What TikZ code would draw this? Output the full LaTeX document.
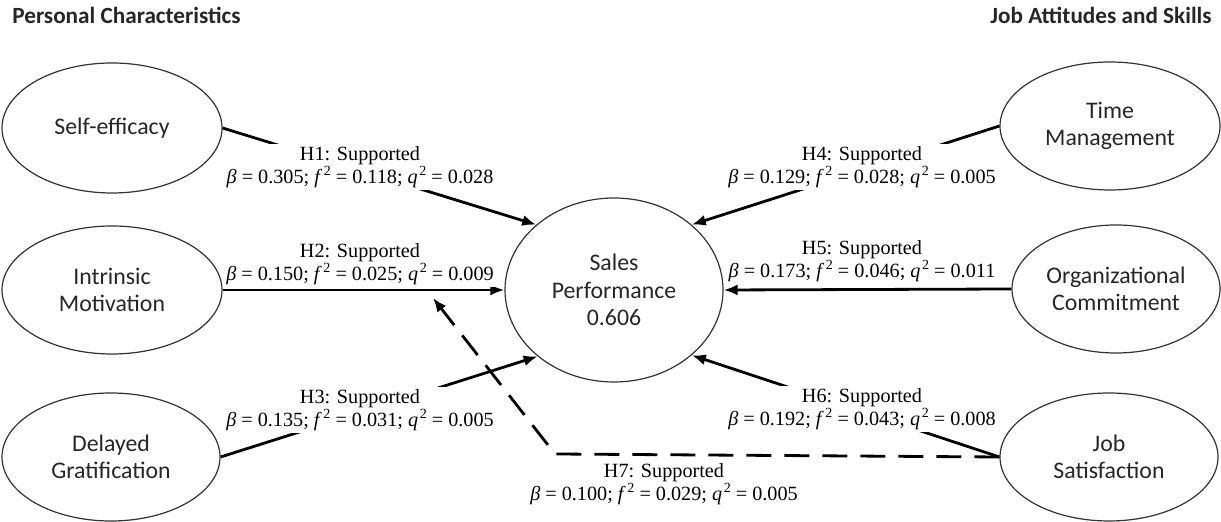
\documentclass[tikz,border=0pt]{standalone}
\usepackage{fontspec}
\setmainfont{Liberation Serif}
\newfontfamily\calfont{Carlito}
\usetikzlibrary{arrows.meta,shapes.geometric}
% italic symbol with a squared exponent
\newcommand\sqd[1]{\textit{#1}\kern0.8pt\raisebox{0.85ex}{\scriptsize 2}}

\begin{document}
\begin{tikzpicture}[x=0.5pt,y=-0.5pt,
  latent/.style={ellipse,draw=black!80,line width=0.6pt,inner sep=0pt,align=center,
    text=black!85,font=\calfont\fontsize{11.9}{13.7}\selectfont},
  pathline/.style={line width=1.4pt,-{Latex[length=7pt,width=5.5pt]}},
  mediated/.style={pathline,dash pattern=on 12.5pt off 6.5pt},
  est/.style={align=center,fill=white,inner sep=1pt,font=\fontsize{10.1}{11.6}\selectfont},
  grouptitle/.style={font=\calfont\bfseries\fontsize{11.6}{13}\selectfont,text=black!85,inner sep=0pt}
]
\useasboundingbox (0,0) rectangle (1221,522);

% group headings
\node[grouptitle,anchor=west] (hpc) at (12,15) {Personal Characteristics};
\node[grouptitle,anchor=east] (hja) at (1212,15) {Job Attitudes and Skills};

% constructs
\node[latent,minimum width=110pt,minimum height=65pt] (se) at (112,128) {Self-efficacy};
\node[latent,minimum width=110pt,minimum height=64pt] (im) at (112,290) {Intrinsic\\Motivation};
\node[latent,minimum width=109pt,minimum height=64pt] (dg) at (111,457) {Delayed\\Gratification};
\node[latent,minimum width=110pt,minimum height=64pt] (tm) at (1110,126) {Time\\Management};
\node[latent,minimum width=104pt,minimum height=64pt] (oc) at (1116,289) {Organizational\\Commitment};
\node[latent,minimum width=109pt,minimum height=64pt] (js) at (1109,457) {Job\\Satisfaction};
\node[latent,minimum width=109pt,minimum height=92pt] (sp) at (614,290) {Sales\\Performance\\0.606};

% structural paths
\draw[pathline] (se.east) -- (sp.140);
\draw[pathline] (im.east) -- (sp.west);
\draw[pathline] (dg.east) -- (sp.221);
\draw[pathline] (tm.west) -- (sp.40);
\draw[pathline] (oc.west) -- (sp.east);
\draw[pathline] (js.west) -- (sp.320);

% moderated path
\coordinate (bend) at (555,454);
\coordinate (tip) at (433,298);
\draw[mediated] (js.west) -- (bend) -- (tip);

% path estimates
\node[est] (e1) at (360,167) {H1: Supported\\\textit{β} = 0.305; \sqd{f} = 0.118; \sqd{q} = 0.028};
\node[est] (e2) at (360,264) {H2: Supported\\\textit{β} = 0.150; \sqd{f} = 0.025; \sqd{q} = 0.009};
\node[est] (e3) at (360,410) {H3: Supported\\\textit{β} = 0.135; \sqd{f} = 0.031; \sqd{q} = 0.005};
\node[est] (e4) at (862,167) {H4: Supported\\\textit{β} = 0.129; \sqd{f} = 0.028; \sqd{q} = 0.005};
\node[est] (e5) at (862,261) {H5: Supported\\\textit{β} = 0.173; \sqd{f} = 0.046; \sqd{q} = 0.011};
\node[est] (e6) at (862,409) {H6: Supported\\\textit{β} = 0.192; \sqd{f} = 0.043; \sqd{q} = 0.008};
\node[est,fill=none] (e7) at (664,484) {H7: Supported\\\textit{β} = 0.100; \sqd{f} = 0.029; \sqd{q} = 0.005};
\end{tikzpicture}
\end{document}
